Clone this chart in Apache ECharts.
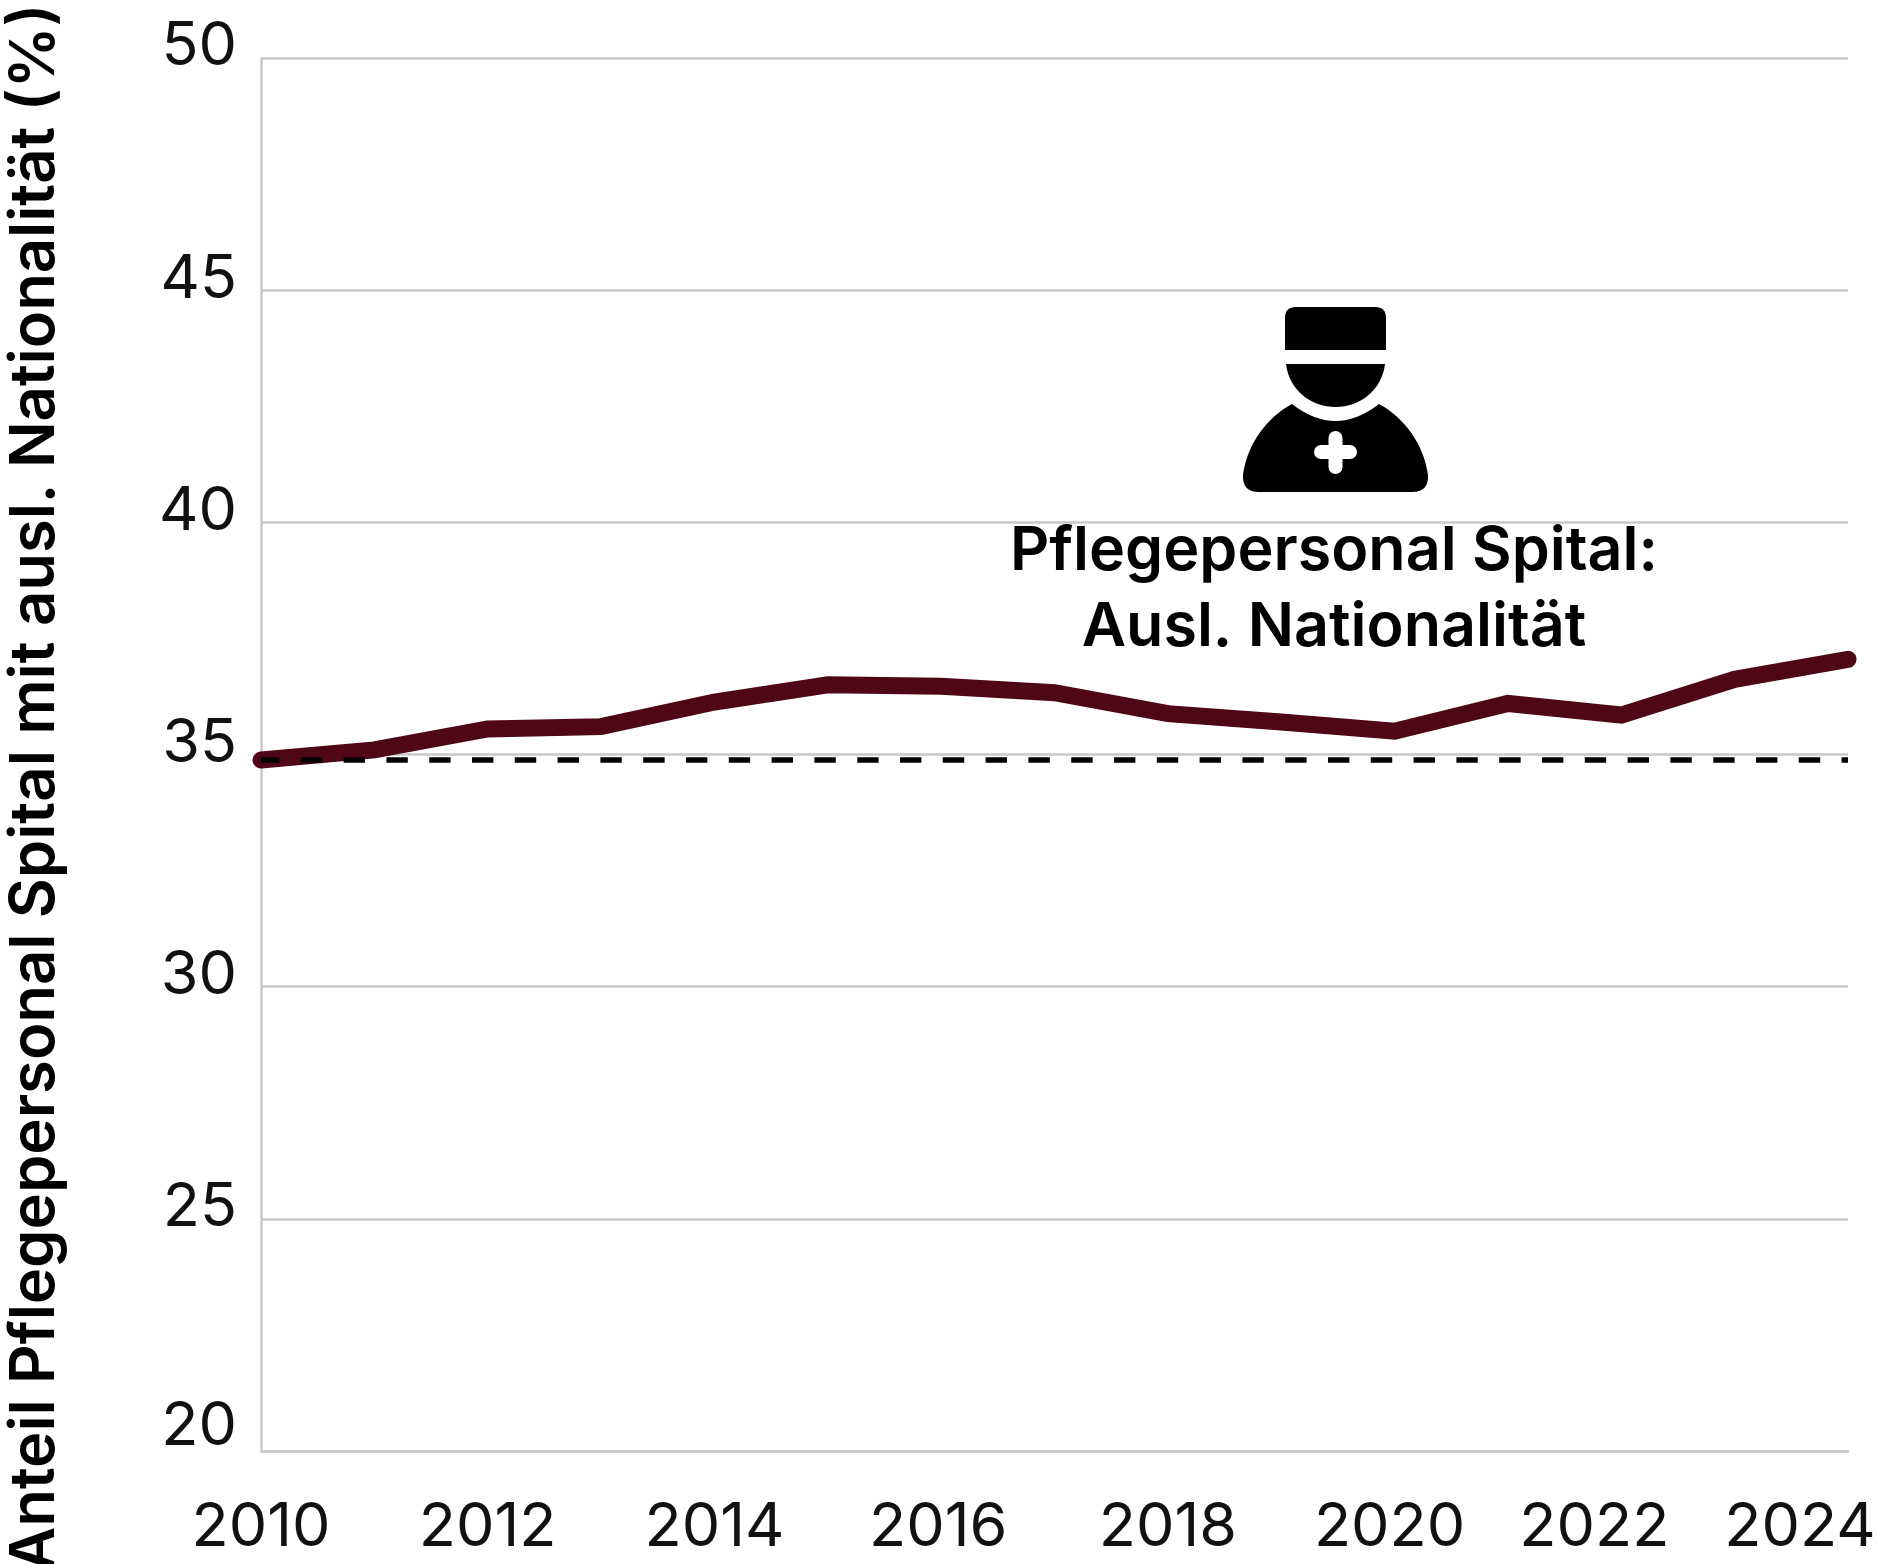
<!DOCTYPE html>
<html>
<head>
<meta charset="utf-8">
<style>
  html, body { margin: 0; padding: 0; background: #fff; }
  #chart { width: 1878px; height: 1564px; }
</style>
<script src="https://cdn.jsdelivr.net/npm/echarts@6/dist/echarts.min.js"></script>
</head>
<body>
<div id="chart"></div>
<script>
const years = ['2010', '2011', '2012', '2013', '2014', '2015', '2016', '2017', '2018', '2019', '2020', '2021', '2022', '2023', '2024'];
const shareForeign = [34.88, 35.1, 35.55, 35.6, 36.13, 36.5, 36.47, 36.33, 35.88, 35.7, 35.5, 36.1, 35.85, 36.62, 37.05];
const baseline = 34.88;
const yTicks = [20, 25, 30, 35, 40, 45, 50];
const yTitle = 'Anteil Pflegepersonal Spital mit ausl. Nationalität (%)';
const noteText = 'Pflegepersonal Spital:\nAusl. Nationalität';

const fontName = 'Inter';
const gridColor = '#c9c9c9';

// the last labels sit further left than their ticks, padding moves them
const labelPadding = { '2016': 6, '2020': 10, '2022': 54, '2024': 96 };

// nurse icon
echarts.graphic.registerShape('iconHat', echarts.graphic.extendPath('M1296,307 H1375 Q1386,307 1386,318 V350 H1285 V318 Q1285,307 1296,307 Z'));
echarts.graphic.registerShape('iconFace', echarts.graphic.extendPath('M1286,364 H1385 C1382,390 1360,407 1335.5,407 C1311,407 1289,390 1286,364 Z'));
echarts.graphic.registerShape('iconBody', echarts.graphic.extendPath('M1292,404 Q1335.5,438 1379,404 C1405,418 1424,445 1428,475 Q1429,492 1412,492 H1259 Q1242,492 1243,475 C1247,445 1266,418 1292,404 Z'));

const chart = echarts.init(document.getElementById('chart'));
chart.setOption({
  backgroundColor: '#fff',
  animation: false,
  grid: { left: 261, right: 30, top: 58, bottom: 113, outerBoundsMode: 'none' },
  xAxis: {
    type: 'category',
    boundaryGap: false,
    data: years.map(y => ({
      value: y,
      textStyle: { padding: [0, labelPadding[y] || 0, 0, 0] }
    })),
    axisLine: { lineStyle: { color: gridColor, width: 2.5 } },
    axisTick: { show: false },
    axisLabel: {
      interval: 1,
      hideOverlap: false,
      margin: 46,
      color: '#111',
      fontFamily: fontName,
      fontSize: 61
    }
  },
  yAxis: {
    type: 'value',
    min: yTicks[0],
    max: yTicks[yTicks.length - 1],
    interval: 5,
    name: yTitle,
    nameLocation: 'middle',
    nameRotate: 90,
    nameGap: 194,
    nameTextStyle: { color: '#000', fontFamily: fontName, fontWeight: 600, fontSize: 61.5, padding: [0, 66, 0, 0] },
    axisLine: { show: true, lineStyle: { color: gridColor, width: 2.5 } },
    axisTick: { show: false },
    splitLine: { lineStyle: { color: gridColor, width: 2.5 } },
    axisLabel: {
      margin: 24,
      color: '#111',
      fontFamily: fontName,
      fontSize: 61,
      padding: [0, 0, 22, 0],
      formatter: v => v === 20 ? '{low|20}' : String(v),
      rich: { low: { color: '#111', fontFamily: fontName, fontSize: 61, padding: [0, 0, 26, 0] } }
    }
  },
  series: [{
    type: 'line',
    data: shareForeign,
    symbol: 'none',
    clip: false,
    lineStyle: { color: '#4f0718', width: 17, cap: 'round', join: 'miter' },
    markLine: {
      silent: true,
      symbol: 'none',
      label: { show: false },
      lineStyle: { color: '#000', width: 5.5, type: [21.4, 21.4], dashOffset: 3 },
      data: [{ yAxis: baseline }]
    }
  }],
  graphic: [
    { type: 'iconHat', style: { fill: '#000' } },
    { type: 'iconFace', style: { fill: '#000' } },
    { type: 'iconBody', style: { fill: '#000' } },
    { type: 'rect', shape: { x: 1314, y: 445, width: 43, height: 14, r: 7 }, style: { fill: '#fff' } },
    { type: 'rect', shape: { x: 1328.5, y: 431, width: 14, height: 43, r: 7 }, style: { fill: '#fff' } },
    {
      type: 'text',
      x: 1334,
      y: 590,
      style: {
        text: noteText,
        fill: '#000',
        font: '600 61px ' + fontName,
        lineHeight: 76,
        align: 'center',
        verticalAlign: 'middle'
      }
    }
  ]
});
window.addEventListener('resize', chart.resize);
</script>
</body>
</html>
